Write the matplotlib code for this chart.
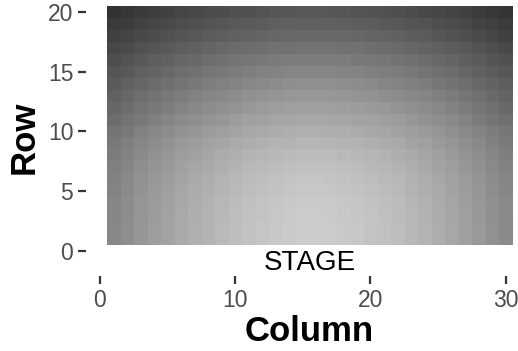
import numpy as np
import matplotlib
matplotlib.use('Agg')
import matplotlib.pyplot as plt

plt.rcParams['font.family'] = ['Liberation Sans', 'DejaVu Sans']

# seat grid: 30 columns x 20 rows, grey level of each seat (row 1 is next to the stage)
columns = list(range(1, 31))
rows = list(range(1, 21))
seat_value = [
    [135, 142, 150, 157, 163, 170, 175, 180, 185, 190, 194, 197, 200, 202, 204, 204, 203, 201, 199, 196, 193, 189, 184, 179, 173, 167, 160, 153, 145, 138],
    [135, 142, 150, 157, 163, 170, 175, 180, 185, 190, 194, 197, 200, 202, 204, 204, 203, 201, 199, 196, 193, 189, 184, 179, 173, 167, 160, 153, 145, 138],
    [134, 141, 149, 156, 162, 169, 174, 179, 184, 189, 193, 196, 199, 201, 203, 203, 202, 200, 198, 195, 192, 188, 183, 178, 172, 166, 159, 152, 144, 137],
    [134, 141, 149, 155, 161, 168, 173, 178, 183, 188, 192, 195, 198, 200, 202, 202, 201, 199, 197, 194, 191, 187, 182, 177, 171, 165, 158, 151, 144, 137],
    [132, 139, 147, 154, 160, 167, 172, 176, 181, 186, 190, 193, 196, 198, 200, 200, 199, 197, 195, 192, 189, 185, 180, 175, 170, 164, 157, 150, 142, 135],
    [130, 137, 145, 152, 157, 164, 169, 174, 179, 184, 187, 190, 193, 195, 197, 197, 196, 194, 192, 189, 186, 183, 178, 173, 167, 161, 155, 148, 140, 133],
    [128, 134, 142, 149, 154, 161, 166, 170, 175, 180, 184, 186, 189, 191, 193, 193, 192, 190, 188, 185, 183, 179, 174, 169, 164, 158, 151, 145, 137, 131],
    [124, 131, 138, 145, 150, 157, 161, 166, 171, 175, 179, 182, 184, 186, 188, 188, 187, 185, 183, 181, 178, 174, 170, 165, 160, 154, 148, 141, 134, 127],
    [121, 127, 134, 140, 146, 152, 156, 161, 165, 170, 173, 176, 179, 180, 182, 182, 181, 179, 178, 175, 172, 169, 164, 160, 154, 149, 143, 137, 129, 123],
    [116, 122, 129, 135, 140, 146, 150, 155, 159, 163, 167, 169, 172, 174, 175, 175, 174, 173, 171, 168, 166, 162, 158, 154, 149, 143, 137, 131, 125, 119],
    [109, 115, 122, 128, 133, 139, 143, 147, 151, 157, 160, 162, 165, 166, 168, 168, 167, 166, 164, 162, 159, 156, 151, 146, 142, 137, 131, 124, 117, 112],
    [103, 109, 116, 121, 126, 132, 136, 140, 144, 148, 152, 155, 157, 159, 160, 160, 159, 158, 156, 154, 152, 147, 143, 140, 135, 130, 124, 118, 112, 106],
    [98, 103, 110, 115, 120, 125, 130, 133, 137, 141, 145, 147, 149, 151, 152, 152, 151, 150, 148, 146, 143, 140, 136, 133, 128, 123, 117, 112, 105, 100],
    [91, 97, 102, 108, 112, 117, 121, 125, 129, 132, 135, 138, 140, 142, 143, 143, 143, 141, 140, 138, 134, 132, 128, 125, 119, 115, 110, 104, 99, 94],
    [85, 90, 96, 100, 105, 110, 113, 118, 121, 124, 127, 130, 132, 133, 134, 134, 134, 132, 131, 128, 126, 124, 120, 116, 112, 108, 102, 98, 92, 87],
    [78, 83, 88, 94, 97, 103, 106, 109, 113, 116, 118, 120, 123, 124, 125, 125, 125, 124, 122, 120, 118, 115, 112, 108, 104, 101, 95, 91, 85, 81],
    [71, 75, 81, 85, 89, 93, 97, 100, 104, 107, 109, 111, 113, 114, 115, 115, 115, 114, 113, 110, 108, 106, 102, 99, 96, 92, 88, 83, 78, 73],
    [64, 68, 73, 77, 81, 85, 88, 91, 94, 97, 99, 101, 103, 104, 105, 105, 105, 104, 103, 100, 99, 97, 93, 91, 86, 83, 79, 75, 70, 65],
    [58, 61, 66, 70, 73, 77, 80, 83, 86, 89, 91, 92, 95, 96, 96, 96, 96, 95, 93, 92, 90, 88, 85, 83, 79, 76, 72, 67, 64, 59],
    [51, 55, 59, 62, 66, 70, 72, 75, 77, 81, 82, 84, 86, 87, 88, 88, 87, 86, 84, 83, 82, 79, 77, 74, 71, 68, 65, 61, 56, 52],
]
stage_label = 'STAGE'
stage_x, stage_y = 15.5, -1

grid = np.array(seat_value, dtype=float)

fig = plt.figure(figsize=(5.18, 3.51), dpi=100)
ax = fig.add_axes([0.1669, 0.2137, 0.8614, 0.7926])

ax.imshow(grid, cmap='gray', vmin=0, vmax=255, origin='lower', aspect='auto',
          interpolation='nearest',
          extent=(columns[0] - 0.5, columns[-1] + 0.5, rows[0] - 0.5, rows[-1] + 0.5))
ax.text(stage_x, stage_y, stage_label, ha='center', va='center', fontsize=20, color='black')

ax.set_xlim(-1, 32)
ax.set_ylim(-2.12, 21.2)
ax.set_xticks([0, 10, 20, 30])
ax.set_yticks([0, 5, 10, 15, 20])
for s in ax.spines.values():
    s.set_visible(False)
ax.tick_params(length=5.5, width=1.6, color='#333333', labelcolor='#4d4d4d',
               labelsize=16.5, pad=4)
ax.set_xlabel('Column', fontsize=25, fontweight='bold', labelpad=2)
ax.set_ylabel('Row', fontsize=25, fontweight='bold', labelpad=5)

fig.savefig('out.png', dpi=100, facecolor='white')
